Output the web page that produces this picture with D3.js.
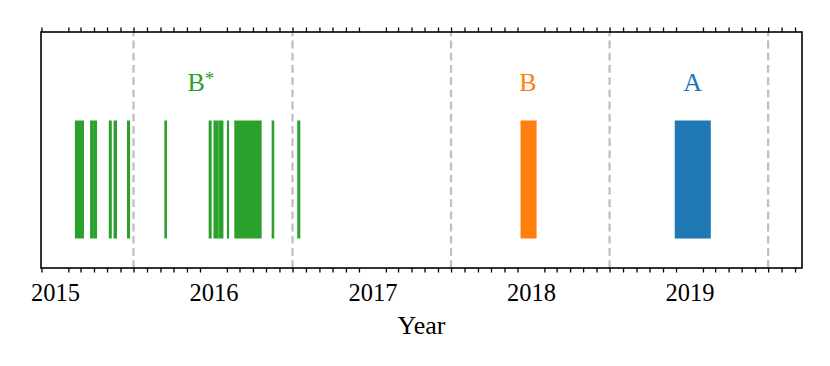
<!DOCTYPE html>
<html>
<head>
<meta charset="utf-8">
<script src="https://cdn.jsdelivr.net/npm/d3@7"></script>
<style>
  body { margin: 0; background: white; }
  text { font-family: "Liberation Serif", "DejaVu Serif", serif; }
</style>
</head>
<body>
<div id="chart"></div>
<script>
// periods (start, end) per group
let greenPeriods = [
    ["2015-02-16", "2015-03-09"],
    ["2015-03-23", "2015-03-30"],
    ["2015-03-30", "2015-04-08"],
    ["2015-05-05", "2015-05-12"],
    ["2015-05-16", "2015-05-24"],
    ["2015-06-16", "2015-06-23"],
    ["2015-09-10", "2015-09-16"],
    ["2015-12-21", "2015-12-28"],
    ["2016-01-01", "2016-01-13"],
    ["2016-01-13", "2016-01-24"],
    ["2016-02-01", "2016-02-06"],
    ["2016-02-18", "2016-04-21"],
    ["2016-05-14", "2016-05-20"],
    ["2016-07-12", "2016-07-19"]
];
let orangePeriods = [["2017-12-08", "2018-01-14"]];
let bluePeriods = [["2018-11-28", "2019-02-19"]];

let groupNames = ["B*", "B", "A"];
let groupColors = ["#2ca02c", "#ff7f0e", "#1f77b4"];
let labelDates = ["2015-12-03", "2017-12-25", "2019-01-08"];

let dividerDates = ["2015-07-01", "2016-07-01", "2017-07-01", "2018-07-01", "2019-07-01"];
let yearTicks = ["2015-01-01", "2016-01-01", "2017-01-01", "2018-01-01", "2019-01-01"];
let xDomain = ["2014-11-30", "2019-09-17"];

let parse = d3.utcParse("%Y-%m-%d");

let dim = {'width': 830, 'height': 366};
let margin = {left: 41, right: 28, top: 32, bottom: 98};

let svg = d3.select('#chart').append('svg')
    .attr('width', dim.width)
    .attr('height', dim.height);

let x = d3.scaleUtc()
    .domain(xDomain.map(parse))
    .range([margin.left, dim.width - margin.right]);

// bars sit between 0 and 1, labels above
let y = d3.scaleLinear()
    .domain([-0.25, 1.75])
    .range([dim.height - margin.bottom, margin.top]);

let monthTicks = d3.utcMonth.range(x.domain()[0], x.domain()[1])
    .filter(d => d.getUTCMonth() != 0);

// dashed dividers, drawn bottom-up so the dashes start at the bottom
svg.append('g').selectAll('line')
    .data(dividerDates.map(parse))
    .join('line')
    .attr('x1', d => x(d)).attr('x2', d => x(d))
    .attr('y1', y(-0.25)).attr('y2', y(1.75))
    .attr('stroke', '#c0c0c0')
    .attr('stroke-width', 2.3)
    .attr('stroke-dasharray', '7.8,4.4');

let groups = [greenPeriods, orangePeriods, bluePeriods];
groups.forEach(function(periods, i){
    svg.append('g').selectAll('rect')
        .data(periods)
        .join('rect')
        .attr('x', d => x(parse(d[0])))
        .attr('width', d => x(parse(d[1])) - x(parse(d[0])))
        .attr('y', y(1))
        .attr('height', y(0) - y(1))
        .attr('fill', groupColors[i]);
});

// group labels
let labels = svg.append('g').selectAll('text')
    .data(groupNames)
    .join('text')
    .attr('x', (d, i) => x(parse(labelDates[i])))
    .attr('y', y(1.25))
    .attr('text-anchor', 'middle')
    .attr('font-size', 26)
    .attr('fill', (d, i) => groupColors[i]);

labels.append('tspan').text(d => d.replace('*', ''));
labels.filter(d => d.includes('*'))
    .append('tspan')
    .attr('font-size', 19)
    .attr('dy', -6)
    .text('*');

// minor month ticks, bottom and top
let bottomAxis = svg.append('g')
    .attr('transform', `translate(0,${y(-0.25)})`)
    .call(d3.axisBottom(x).tickValues(monthTicks).tickSize(4.5).tickFormat(''));
let topAxis = svg.append('g')
    .attr('transform', `translate(0,${y(1.75)})`)
    .call(d3.axisTop(x).tickValues(monthTicks).tickSize(4.5).tickFormat(''));
[bottomAxis, topAxis].forEach(function(ax){
    ax.select('.domain').remove();
    ax.selectAll('.tick line').attr('stroke', 'black').attr('stroke-width', 1.3);
});

// year labels
let yearAxis = svg.append('g')
    .attr('transform', `translate(0,${y(-0.25)})`)
    .call(d3.axisBottom(x).tickValues(yearTicks.map(parse)).tickSize(0)
        .tickFormat(d3.utcFormat('%Y')));
yearAxis.select('.domain').remove();
yearAxis.selectAll('text')
    .attr('y', 33)
    .attr('dy', 0)
    .attr('font-size', 24.5)
    .attr('font-family', '"Liberation Serif", "DejaVu Serif", serif')
    .attr('fill', 'black');

// frame
svg.append('rect')
    .attr('x', margin.left)
    .attr('y', margin.top)
    .attr('width', dim.width - margin.right - margin.left)
    .attr('height', y(-0.25) - y(1.75))
    .attr('fill', 'none')
    .attr('stroke', 'black')
    .attr('stroke-width', 1.6);

svg.append('text')
    .attr('x', (margin.left + dim.width - margin.right) / 2)
    .attr('y', 334)
    .attr('text-anchor', 'middle')
    .attr('font-size', 26)
    .text('Year');
</script>
</body>
</html>
